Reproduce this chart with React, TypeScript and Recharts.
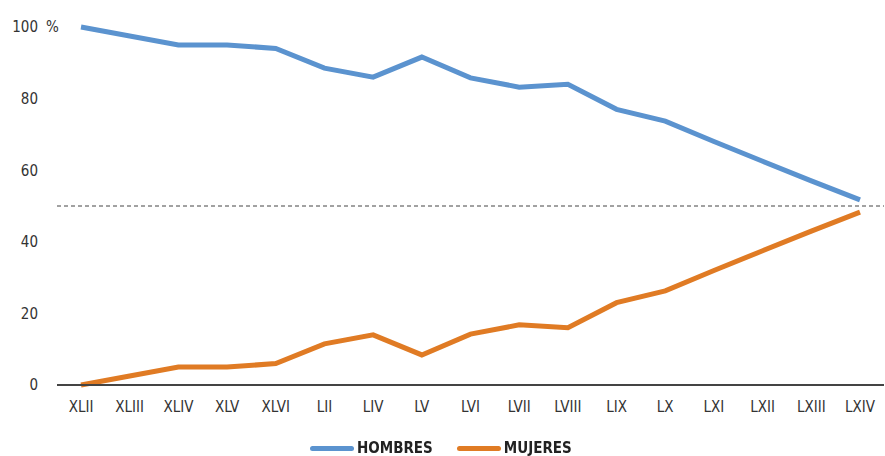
import React from 'react';
import { LineChart, Line, XAxis, YAxis, ReferenceLine } from 'recharts';

const legislaturas = ['XLII', 'XLIII', 'XLIV', 'XLV', 'XLVI', 'LII', 'LIV', 'LV', 'LVI', 'LVII', 'LVIII', 'LIX', 'LX', 'LXI', 'LXII', 'LXIII', 'LXIV'];
const hombres = [100, 97.5, 95, 95, 94, 88.5, 86, 91.6, 85.8, 83.2, 84, 77, 73.7, 68, 62.5, 57, 51.7];
const mujeres = [0, 2.5, 5, 5, 6, 11.5, 14, 8.4, 14.2, 16.8, 16, 23, 26.3, 32, 37.5, 43, 48.3];
const yTicks = [0, 20, 40, 60, 80, 100];

const AZUL = '#5b93cf';
const NARANJA = '#e07b24';
const FONT = "'DejaVu Sans Condensed', 'Liberation Sans Narrow', Roboto, sans-serif";

const data = legislaturas.map((leg, i) => ({
  leg,
  hombres: hombres[i],
  mujeres: mujeres[i],
}));

const YTick = (props: any) => {
  const { y, payload } = props;
  return (
    <g>
      <text x={38} y={y} dy="0.355em" textAnchor="end" fill="#333" fontSize={15} fontFamily={FONT}>
        {payload.value}
      </text>
      {payload.value === 100 && (
        <text x={46} y={y} dy="0.355em" fill="#333" fontSize={15} fontFamily={FONT}>%</text>
      )}
    </g>
  );
};

const LegendItem = ({ color, label }: { color: string; label: string }) => (
  <div style={{ display: 'flex', alignItems: 'center', marginRight: 24 }}>
    <div style={{ width: 44, height: 5, borderRadius: 3, background: color, marginRight: 3 }} />
    <span style={{ fontWeight: 'bold', fontSize: 15, lineHeight: '18px', color: '#222', fontFamily: FONT }}>{label}</span>
  </div>
);

export default function App() {
  return (
    <div style={{ position: 'fixed', left: 0, top: 0, width: 885, height: 456, background: '#fff' }}>
      <LineChart width={885} height={456} data={data} margin={{ top: 27, right: 1, left: 0, bottom: 31 }}>
        <YAxis
          domain={[0, 100]}
          ticks={yTicks}
          axisLine={false}
          tickLine={false}
          width={57}
          tick={<YTick />}
        />
        <XAxis
          dataKey="leg"
          padding={{ left: 24, right: 24 }}
          stroke="#444"
          strokeWidth={2}
          tickLine={false}
          tickMargin={10}
          height={40}
          tick={{ fill: '#333', fontSize: 15, fontFamily: FONT }}
          interval={0}
        />
        <ReferenceLine y={50} stroke="#444" strokeDasharray="4 3" strokeWidth={1} />
        <Line type="linear" dataKey="hombres" stroke={AZUL} strokeWidth={5} dot={false} isAnimationActive={false} />
        <Line type="linear" dataKey="mujeres" stroke={NARANJA} strokeWidth={5} dot={false} isAnimationActive={false} />
      </LineChart>
      <div style={{ position: 'absolute', left: 310, top: 439, display: 'flex' }}>
        <LegendItem color={AZUL} label="HOMBRES" />
        <LegendItem color={NARANJA} label="MUJERES" />
      </div>
    </div>
  );
}
